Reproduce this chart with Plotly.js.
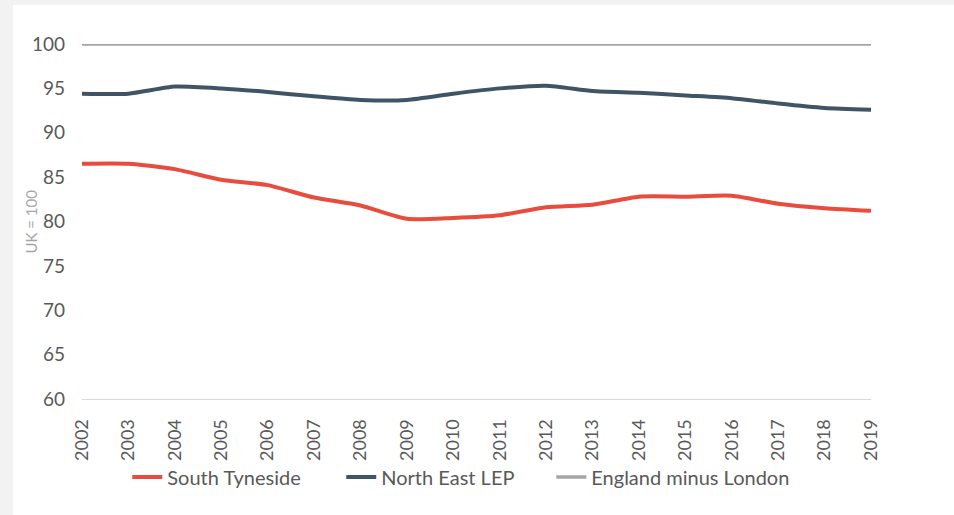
<!DOCTYPE html>
<html>
<head>
<meta charset="utf-8">
<script src="https://cdn.plot.ly/plotly-3.0.1.min.js"></script>
<style>
  html, body { margin: 0; padding: 0; background: #f2f2f2; width: 954px; height: 515px; overflow: hidden; }
  #chart { position: absolute; left: 13px; top: 5px; width: 941px; height: 510px; background: #fff; }
</style>
</head>
<body>
<div id="chart"></div>
<script>
const years = ['2002','2003','2004','2005','2006','2007','2008','2009','2010','2011','2012','2013','2014','2015','2016','2017','2018','2019'];
const southTyneside = [86.5, 86.5, 85.9, 84.7, 84.1, 82.7, 81.8, 80.3, 80.4, 80.7, 81.6, 81.9, 82.8, 82.8, 82.9, 82.0, 81.5, 81.2];
const northEastLEP = [94.4, 94.4, 95.2, 95.0, 94.6, 94.1, 93.7, 93.7, 94.4, 95.0, 95.3, 94.7, 94.5, 94.2, 93.9, 93.3, 92.8, 92.6];
const englandMinusLondon = [100, 100, 100, 100, 100, 100, 100, 100, 100, 100, 100, 100, 100, 100, 100, 100, 100, 100];
const yTicks = [60, 65, 70, 75, 80, 85, 90, 95, 100];

const traces = [
  { x: years, y: southTyneside, name: 'South Tyneside', type: 'scatter', mode: 'lines', legend: 'legend',
    line: { color: '#E84C3D', width: 4, shape: 'spline', smoothing: 0.6 } },
  { x: years, y: northEastLEP, name: 'North East LEP', type: 'scatter', mode: 'lines', legend: 'legend2',
    line: { color: '#3F5566', width: 4, shape: 'spline', smoothing: 0.6 } },
  { x: years, y: englandMinusLondon, name: 'England minus London', type: 'scatter', mode: 'lines', legend: 'legend3',
    line: { color: '#A5A5A5', width: 3.5, shape: 'spline', smoothing: 0.6 } }
];

function legendAt(x) {
  return { orientation: 'h', x: x, xanchor: 'left', y: -0.22, yanchor: 'middle',
           font: { size: 20, color: '#595959' }, itemwidth: 30, bgcolor: 'rgba(0,0,0,0)' };
}

const layout = {
  width: 941, height: 510,
  paper_bgcolor: '#ffffff', plot_bgcolor: '#ffffff',
  margin: { l: 69, r: 83, t: 39, b: 116 },
  font: { family: 'Lato, "Source Sans Pro", sans-serif', color: '#595959', size: 18 },
  showlegend: true,
  legend: legendAt(0.0574),
  legend2: legendAt(0.3286),
  legend3: legendAt(0.5948),
  xaxis: {
    type: 'category', range: [0, 17], showgrid: false, zeroline: false,
    showline: true, linecolor: '#d9d9d9', linewidth: 1,
    tickangle: -90, ticks: '', ticklabelstandoff: 12,
    tickfont: { size: 18, color: '#595959' }, fixedrange: true
  },
  yaxis: {
    range: [60, 100], tickvals: yTicks, ticktext: yTicks.map(String),
    showgrid: false, zeroline: false, showline: false, ticks: '',
    ticklabelstandoff: 16,
    tickfont: { size: 19, color: '#595959' }, fixedrange: true
  },
  annotations: [{
    text: 'UK = 100', xref: 'paper', yref: 'paper', x: 0, y: 0.5,
    xanchor: 'center', yanchor: 'middle', xshift: -52, textangle: -90,
    showarrow: false, font: { size: 15, color: '#A6A6A6' }
  }]
};

Plotly.newPlot('chart', traces, layout, { displayModeBar: false, staticPlot: true });
</script>
</body>
</html>
